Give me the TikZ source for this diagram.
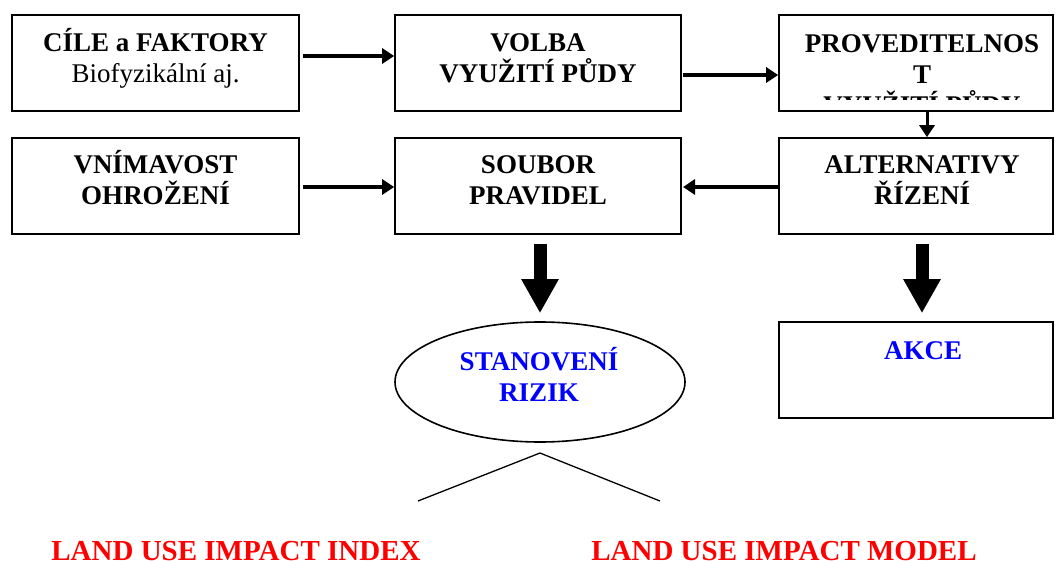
\documentclass[tikz,border=0pt]{standalone}
\usepackage{fontspec}
\setmainfont{Liberation Serif}
\usetikzlibrary{arrows.meta,shapes.geometric}
\definecolor{tblue}{RGB}{0,0,255}
\definecolor{tred}{RGB}{255,0,0}
\newcommand{\hstr}{\vphantom{Í}}
\newcommand{\dstr}{\vphantom{y}}
\begin{document}
\begin{tikzpicture}[x=1pt,y=-1pt,
  box/.style={draw,line width=1.6pt,minimum width=#1,minimum height=96pt,inner sep=0pt},
  txt/.style={font=\fontsize{27}{31}\selectfont\bfseries,align=center,inner sep=0pt},
  conn/.style={line width=4pt,-{Triangle[length=12pt,width=15pt]}},
  bigarrow/.style={line width=13pt,-{Triangle[length=34pt,width=35pt]}},
  redtxt/.style={font=\fontsize{29}{29}\selectfont\bfseries,text=tred,inner sep=0pt}]
\clip (0,0) rectangle (1056,561);
\fill[white] (0,0) rectangle (1056,561);
% row 1
\node[box=287pt] (b1) at (155.5,63) {};
\node[box=286pt] (b2) at (538,63) {};
\node[box=274pt] (b3) at (916,63) {};
\node[txt] (t1) at (155.5,58) {\hstr CÍLE a FAKTORY\\{\mdseries Biofyzikální aj.}\dstr};
\node[txt] (t2) at (538,58) {\hstr VOLBA\\VYUŽITÍ PŮDY\dstr};
\begin{scope}
\clip (781,17) rectangle (1051,100);
\node[txt] (t3) at (922,74.5) {\hstr PROVEDITELNOS\\T\\VYUŽITÍ PŮDY\dstr};
\end{scope}
% row 2
\node[box=287pt] (b4) at (155.5,186) {};
\node[box=286pt] (b5) at (538,186) {};
\node[box=274pt] (b6) at (916,186) {};
\node[txt] (t4) at (155.5,180) {\hstr VNÍMAVOST\\OHROŽENÍ\dstr};
\node[txt] (t5) at (538,180) {\hstr SOUBOR\\PRAVIDEL\dstr};
\node[txt] (t6) at (922,180) {\hstr ALTERNATIVY\\ŘÍZENÍ\dstr};
% row 3
\node[draw,ellipse,line width=1.6pt,minimum width=290pt,minimum height=120pt,inner sep=0pt] (e) at (540,382) {};
\node[txt,text=tblue] (te) at (539,377.5) {\hstr STANOVENÍ\\RIZIK\dstr};
\node[box=274pt] (b7) at (916,370) {};
\node[txt,text=tblue] (t7) at (923,350.5) {\hstr AKCE\dstr};
% connectors
\coordinate (a1s) at (303,56);
\draw[conn] (a1s) -- (b2.west |- a1s);
\coordinate (a2s) at (683,75);
\draw[conn] (a2s) -- (b3.west |- a2s);
\draw[conn,line width=3pt] (b3.south -| 927,0) -- (b6.north -| 927,0);
\coordinate (a4s) at (303,187);
\draw[conn] (a4s) -- (b5.west |- a4s);
\coordinate (a5e) at (683,187);
\draw[conn] (b6.west |- a5e) -- (a5e);
\draw[bigarrow] ([yshift=-9pt]b5.south -| 540,0) -- ([yshift=8pt]e.north);
\draw[bigarrow] ([yshift=-9pt]b6.south -| 922,0) -- ([yshift=8pt]b7.north -| 922,0);
% fan
\coordinate (f0) at (540,453);
\coordinate (f1) at (418,501);
\coordinate (f2) at (660,501);
\draw[line width=1.3pt] (f1) -- (f0) -- (f2);
\node[redtxt,anchor=base] (r1) at (236,560) {LAND USE IMPACT INDEX};
\node[redtxt,anchor=base] (r2) at (784,560) {LAND USE IMPACT MODEL};
\end{tikzpicture}
\end{document}
